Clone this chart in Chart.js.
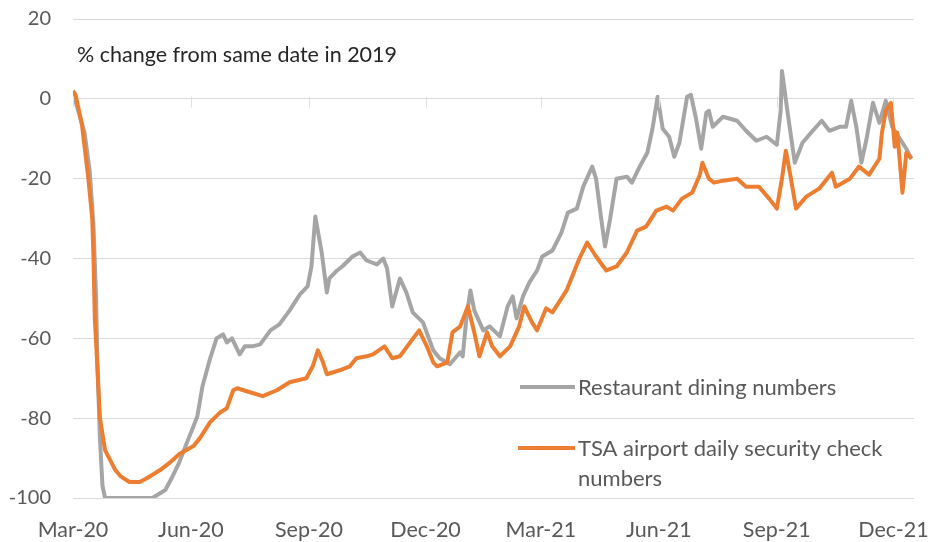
<!DOCTYPE html>
<html>
<head>
<meta charset="utf-8">
<script src="https://cdn.jsdelivr.net/npm/chart.js@4.4.1/dist/chart.umd.min.js"></script>
<style>
  html, body { margin: 0; padding: 0; background: #ffffff; }
  #wrap { width: 931px; height: 542px; position: relative; }
</style>
</head>
<body>
<div id="wrap"><canvas id="c" width="931" height="542"></canvas></div>
<script>
// Days counted from 1 Mar 2020
const tickDays = [0, 92, 184, 275, 365, 457, 549, 640];
const tickLabels = ['Mar-20', 'Jun-20', 'Sep-20', 'Dec-20', 'Mar-21', 'Jun-21', 'Sep-21', 'Dec-21'];
const yTicks = [20, 0, -20, -40, -60, -80, -100];

const seriesNames = ['Restaurant dining numbers', 'TSA airport daily security check numbers'];
const legendLines = ['Restaurant dining numbers', 'TSA airport daily security check', 'numbers'];
const noteText = '% change from same date in 2019';

const restaurantDays = [0, 5, 9, 13, 16, 18, 19, 21, 23, 25, 62, 72, 77, 83, 89, 94, 97, 101, 107, 112, 117, 120, 124, 127, 130, 134, 140, 146, 154, 161, 169, 177, 183, 186, 189, 194, 198, 200, 206, 210, 218, 224, 229, 237, 242, 245, 249, 255, 260, 265, 273, 281, 286, 294, 302, 304, 307, 310, 313, 320, 325, 333, 339, 343, 346, 351, 356, 362, 366, 374, 381, 386, 393, 398, 405, 408, 412, 415, 419, 424, 432, 436, 442, 448, 452, 456, 460, 465, 469, 473, 479, 482, 486, 490, 494, 496, 499, 507, 518, 525, 533, 541, 549, 552, 553, 557, 563, 569, 577, 584, 590, 598, 603, 607, 611, 615, 619, 624, 629, 634, 639, 645, 650, 654];
const restaurantValues = [1.5, -4, -8.5, -18, -32, -50, -66, -85, -97, -100, -100, -98, -95, -91, -86, -82, -79.5, -72, -65, -60, -59, -61, -60, -62, -64, -62, -62, -61.5, -58, -56.5, -53, -49, -47, -42, -29.5, -38.5, -48.5, -45, -43, -42, -39.5, -38.5, -40.5, -41.5, -40, -42.5, -52, -45, -48.5, -53.5, -56, -63, -65, -66.5, -63.5, -64.5, -54.5, -48, -53, -58, -57, -59.5, -52, -49.5, -55, -49.5, -46, -43, -39.5, -38, -33.5, -28.5, -27.5, -22, -17, -20, -30, -37, -30, -20, -19.5, -21, -17, -13.5, -7.5, 0.5, -7.5, -9.5, -14.5, -11, 0.5, 1, -5, -12.5, -3.5, -3, -7, -4.5, -5.5, -8, -10.5, -9.5, -11.5, -3, 7, -2.5, -16, -11, -8, -5.5, -8, -7, -7, -0.5, -7, -16, -10, -1, -6, -0.5, -7, -10, -12.5, -15];

const tsaDays = [0, 2, 7, 12, 15, 16, 17, 19, 21, 25, 33, 37, 44, 52, 58, 68, 76, 83, 94, 99, 107, 115, 120, 125, 128, 138, 148, 159, 169, 182, 187, 191, 195, 198, 208, 216, 221, 229, 234, 243, 249, 255, 263, 270, 276, 281, 284, 292, 296, 302, 308, 313, 317, 323, 327, 333, 341, 348, 352, 358, 362, 369, 374, 385, 395, 401, 408, 416, 424, 432, 440, 447, 455, 463, 468, 475, 483, 489, 491, 496, 500, 507, 518, 525, 535, 543, 549, 553, 556, 560, 564, 572, 582, 592, 595, 606, 613, 621, 629, 631, 634, 638, 641, 643, 647, 650, 654];
const tsaValues = [2, 1, -6.5, -20, -30, -40, -55, -67, -80, -88, -93, -94.5, -96, -96, -95, -93, -91, -89, -87, -85, -81, -78.5, -77.5, -73, -72.5, -73.5, -74.5, -73, -71, -70, -67, -63, -66, -69, -68, -67, -65, -64.5, -64, -62, -65, -64.5, -61, -58, -62, -66, -67, -66, -58.5, -57, -52, -58.5, -64.5, -58.5, -62, -64.5, -62, -57, -52, -56, -58, -52.5, -53.5, -48, -40, -36, -39.5, -43, -42, -38.5, -33, -32, -28, -27, -28, -25, -23.5, -19, -16, -20, -21, -20.5, -20, -22, -22, -25, -27.5, -20, -13, -20, -27.5, -24.5, -22.5, -18.5, -22, -20, -17, -19, -15, -8.5, -3, -1, -12, -8.5, -23.5, -13.5, -15];

const GRAY = '#A5A5A5';
const ORANGE = '#ED7D31';
const FONT = 'Lato, "Open Sans", sans-serif';

function pts(xs, ys) { return xs.map((d, i) => ({ x: d, y: ys[i] })); }

const extras = {
  id: 'extras',
  afterDraw(chart) {
    const ctx = chart.ctx;
    const xs = chart.scales.x, ys = chart.scales.y;
    ctx.save();
    // faint tick marks on the zero line
    ctx.strokeStyle = '#e0e0e0';
    ctx.lineWidth = 1;
    const y0 = Math.round(ys.getPixelForValue(0)) + 0.5;
    tickDays.forEach(d => {
      const px = Math.round(xs.getPixelForValue(d)) + 0.5;
      ctx.beginPath(); ctx.moveTo(px, y0 - 3); ctx.lineTo(px, y0 + 8); ctx.stroke();
    });
    // note text
    ctx.fillStyle = '#262626';
    ctx.font = '21.5px ' + FONT;
    ctx.textBaseline = 'middle';
    ctx.textAlign = 'left';
    ctx.fillText(noteText, 77, 55);
    // legend
    ctx.lineWidth = 4;
    ctx.lineCap = 'butt';
    ctx.strokeStyle = GRAY;
    ctx.beginPath(); ctx.moveTo(520, 387); ctx.lineTo(575, 387); ctx.stroke();
    ctx.strokeStyle = ORANGE;
    ctx.beginPath(); ctx.moveTo(518, 448); ctx.lineTo(575, 448); ctx.stroke();
    ctx.fillStyle = '#595959';
    ctx.font = '22px ' + FONT;
    ctx.fillText(legendLines[0], 578, 388);
    ctx.fillText(legendLines[1], 578, 449);
    ctx.fillText(legendLines[2], 578, 479);
    ctx.restore();
  }
};

new Chart(document.getElementById('c'), {
  type: 'line',
  data: {
    datasets: [
      { label: seriesNames[0], order: 2, data: pts(restaurantDays, restaurantValues), borderColor: GRAY, backgroundColor: GRAY, borderWidth: 4, pointRadius: 0, tension: 0, borderJoinStyle: 'round' },
      { label: seriesNames[1], order: 1, data: pts(tsaDays, tsaValues), borderColor: ORANGE, backgroundColor: ORANGE, borderWidth: 4, pointRadius: 0, tension: 0, borderJoinStyle: 'round' }
    ]
  },
  options: {
    responsive: false,
    animation: false,
    layout: { padding: { top: 19, right: 17, left: 0, bottom: 0 } },
    plugins: { legend: { display: false }, tooltip: { enabled: false } },
    scales: {
      x: {
        type: 'linear', min: 0, max: 656,
        afterBuildTicks(scale) { scale.ticks = tickDays.map(v => ({ value: v })); },
        afterFit(scale) { scale.height = 44; scale.paddingLeft = 0; scale.paddingRight = 0; },
        grid: { display: false },
        border: { display: false },
        ticks: {
          autoSkip: false, maxRotation: 0, padding: 11,
          color: '#595959', font: { family: FONT, size: 21.5 },
          callback(v) { const i = tickDays.indexOf(v); return i >= 0 ? tickLabels[i] : ''; }
        }
      },
      y: {
        min: -100, max: 20,
        afterBuildTicks(scale) { scale.ticks = yTicks.map(v => ({ value: v })); },
        afterFit(scale) { scale.width = 73; scale.paddingTop = 0; scale.paddingBottom = 0; },
        grid: { color: '#d9d9d9', lineWidth: 1, drawTicks: false },
        border: { display: false },
        ticks: { padding: 22, color: '#595959', font: { family: FONT, size: 20 } }
      }
    }
  },
  plugins: [extras]
});
</script>
</body>
</html>
